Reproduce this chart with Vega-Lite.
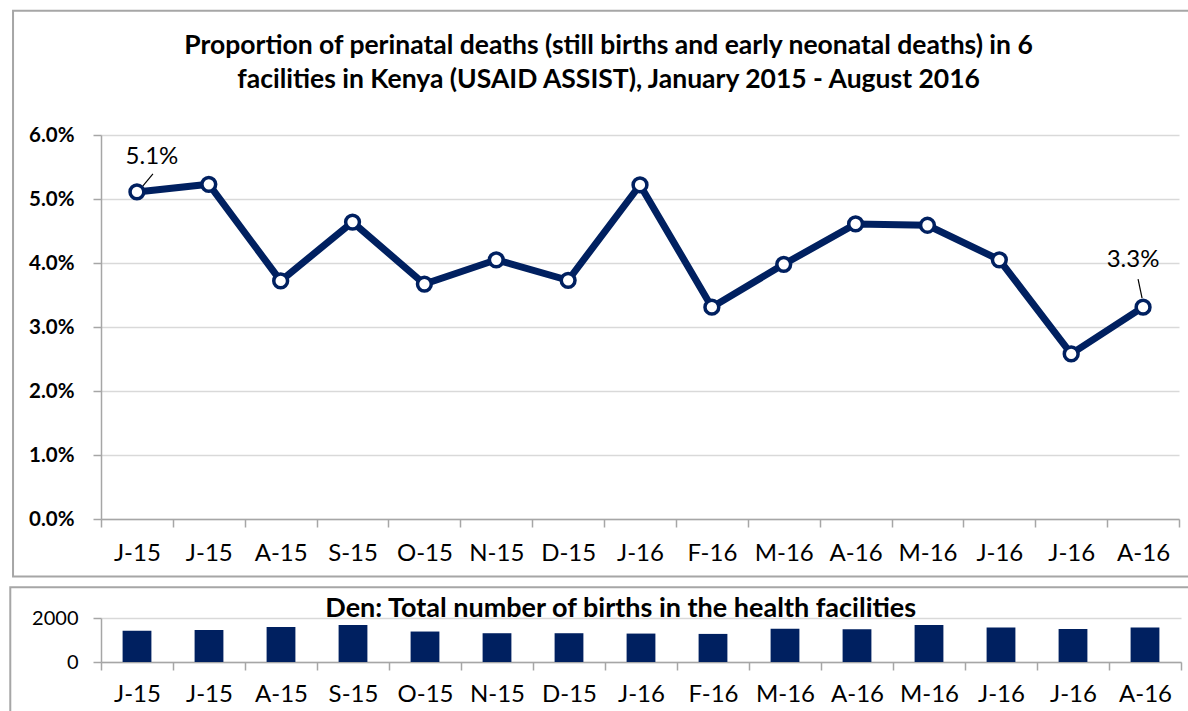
{
  "$schema": "https://vega.github.io/schema/vega-lite/v6.json",
  "background": "white",
  "padding": {"left": 9, "top": 9, "right": 0, "bottom": 0},
  "spacing": 8,
  "config": {"font": "Lato", "view": {"stroke": null}},
  "datasets": {
    "rate": [
      {"d": "2015-06", "p": 0.0511},
      {"d": "2015-07", "p": 0.0523},
      {"d": "2015-08", "p": 0.0372},
      {"d": "2015-09", "p": 0.0464},
      {"d": "2015-10", "p": 0.0367},
      {"d": "2015-11", "p": 0.0405},
      {"d": "2015-12", "p": 0.0373},
      {"d": "2016-01", "p": 0.0522},
      {"d": "2016-02", "p": 0.0331},
      {"d": "2016-03", "p": 0.0398},
      {"d": "2016-04", "p": 0.0461},
      {"d": "2016-05", "p": 0.0459},
      {"d": "2016-06", "p": 0.0405},
      {"d": "2016-07", "p": 0.0258},
      {"d": "2016-08", "p": 0.0331}
    ],
    "births": [
      {"d": "2015-06", "n": 1424},
      {"d": "2015-07", "n": 1455},
      {"d": "2015-08", "n": 1591},
      {"d": "2015-09", "n": 1682},
      {"d": "2015-10", "n": 1385},
      {"d": "2015-11", "n": 1308},
      {"d": "2015-12", "n": 1308},
      {"d": "2016-01", "n": 1292},
      {"d": "2016-02", "n": 1277},
      {"d": "2016-03", "n": 1508},
      {"d": "2016-04", "n": 1492},
      {"d": "2016-05", "n": 1684},
      {"d": "2016-06", "n": 1564},
      {"d": "2016-07", "n": 1504},
      {"d": "2016-08", "n": 1564}
    ]
  },
  "vconcat": [
    {
      "width": 1078,
      "height": 384,
      "title": {
        "text": ["Proportion of perinatal deaths (still births and early neonatal deaths)  in 6", "facilities in Kenya (USAID ASSIST), January 2015 - August 2016"],
        "font": "Lato", "fontSize": 26.5, "fontWeight": "bold", "color": "black",
        "frame": "bounds", "anchor": "middle", "lineHeight": 34, "offset": -84
      },
      "resolve": {"scale": {"x": "independent", "y": "independent"}, "axis": {"x": "independent", "y": "independent"}},
      "layer": [
        {
          "data": {"values": [{"box": "frame"}]},
          "mark": {"type": "rect", "filled": false, "stroke": "#a6a6a6", "strokeWidth": 2},
          "encoding": {
            "x": {"datum": -1.224, "type": "quantitative", "scale": {"domain": [0, 15], "nice": false, "zero": false}, "axis": null},
            "x2": {"datum": 15.35},
            "y": {"datum": 0.0794, "type": "quantitative", "scale": {"domain": [0, 0.06], "nice": false, "zero": false}, "axis": null},
            "y2": {"datum": -0.0090}
          }
        },
        {
          "data": {"name": "rate"},
          "encoding": {
            "x": {
              "field": "d", "type": "ordinal", "bandPosition": 0.5,
              "scale": {"type": "band", "paddingInner": 0, "paddingOuter": 0},
              "axis": {
                "title": null, "labelAngle": 0, "tickBand": "extent",
                "labelExpr": "isString(datum.value) ? ['J','F','M','A','M','J','J','A','S','O','N','D'][toNumber(substring(datum.value,5,7))-1] + '-' + substring(datum.value,2,4) : ''",
                "labelFont": "Lato", "labelFontSize": 24, "labelColor": "black", "labelPadding": 14,
                "tickSize": 8, "tickColor": "#a6a6a6", "tickWidth": 1.5,
                "domainColor": "#a6a6a6", "domainWidth": 1.5, "grid": false
              }
            },
            "y": {
              "field": "p", "type": "quantitative",
              "scale": {"domain": [0, 0.06], "nice": false},
              "axis": {
                "title": null, "values": [0, 0.01, 0.02, 0.03, 0.04, 0.05, 0.06], "format": ".1%",
                "labelFont": "Lato", "labelFontSize": 20.5, "labelFontWeight": "bold", "labelColor": "black", "labelPadding": 19,
                "tickSize": 8, "tickColor": "#a6a6a6", "tickWidth": 1.5,
                "domainColor": "#a6a6a6", "domainWidth": 1.5,
                "grid": true, "gridColor": "#d9d9d9", "gridWidth": 1.5
              }
            }
          },
          "layer": [
            {"mark": {"type": "line", "stroke": "#002060", "strokeWidth": 7}},
            {"mark": {"type": "point", "shape": "circle", "filled": true, "fill": "white", "stroke": "#002060", "strokeWidth": 3.5, "size": 190, "opacity": 1}},
            {
              "transform": [{"filter": "datum.d == '2015-06'"}],
              "mark": {"type": "rule", "stroke": "black", "strokeWidth": 1.2, "xOffset": 6, "yOffset": -6, "x2Offset": 16, "y2Offset": -18},
              "encoding": {"x2": {"field": "d", "bandPosition": 0.5}, "y2": {"field": "p"}}
            },
            {
              "transform": [{"filter": "datum.d == '2016-08'"}],
              "mark": {"type": "rule", "stroke": "black", "strokeWidth": 1.2, "xOffset": -1, "yOffset": -9, "x2Offset": -5, "y2Offset": -28},
              "encoding": {"x2": {"field": "d", "bandPosition": 0.5}, "y2": {"field": "p"}}
            },
            {
              "transform": [{"filter": "datum.d == '2015-06'"}],
              "mark": {"type": "text", "font": "Lato", "fontSize": 24, "color": "black", "dx": 15, "dy": -35},
              "encoding": {"text": {"field": "p", "type": "quantitative", "format": ".1%"}}
            },
            {
              "transform": [{"filter": "datum.d == '2016-08'"}],
              "mark": {"type": "text", "font": "Lato", "fontSize": 24, "color": "black", "dx": -10, "dy": -47},
              "encoding": {"text": {"field": "p", "type": "quantitative", "format": ".1%"}}
            }
          ]
        }
      ]
    },
    {
      "width": 1080,
      "height": 44,
      "title": {
        "text": "Den: Total number of births in the health facilities",
        "font": "Lato", "fontSize": 27, "fontWeight": "bold", "color": "black",
        "frame": "bounds", "anchor": "middle", "offset": -37, "dx": 15
      },
      "resolve": {"scale": {"x": "independent", "y": "independent"}, "axis": {"x": "independent", "y": "independent"}},
      "layer": [
        {
          "data": {"values": [{"box": "frame"}]},
          "mark": {"type": "rect", "filled": false, "stroke": "#a6a6a6", "strokeWidth": 2},
          "encoding": {
            "x": {"datum": -1.26, "type": "quantitative", "scale": {"domain": [0, 15], "nice": false, "zero": false}, "axis": null},
            "x2": {"datum": 15.28},
            "y": {"datum": 3400, "type": "quantitative", "scale": {"domain": [0, 2000], "nice": false, "zero": false}, "axis": null},
            "y2": {"datum": -2600}
          }
        },
        {
          "data": {"name": "births"},
          "mark": {"type": "bar", "color": "#002060", "width": {"band": 0.4}},
          "encoding": {
            "x": {
              "field": "d", "type": "ordinal",
              "scale": {"type": "band", "paddingInner": 0, "paddingOuter": 0},
              "axis": {
                "title": null, "labelAngle": 0, "tickBand": "extent",
                "labelExpr": "isString(datum.value) ? ['J','F','M','A','M','J','J','A','S','O','N','D'][toNumber(substring(datum.value,5,7))-1] + '-' + substring(datum.value,2,4) : ''",
                "labelFont": "Lato", "labelFontSize": 24, "labelColor": "black", "labelPadding": 12,
                "tickSize": 8, "tickColor": "#a6a6a6", "tickWidth": 1.5,
                "domainColor": "#a6a6a6", "domainWidth": 1.5, "grid": false
              }
            },
            "y": {
              "field": "n", "type": "quantitative",
              "scale": {"domain": [0, 2000], "nice": false},
              "axis": {
                "title": null, "values": [0, 2000], "format": "d",
                "labelFont": "Lato", "labelFontSize": 20, "labelColor": "black", "labelPadding": 15,
                "tickSize": 8, "tickColor": "#a6a6a6", "tickWidth": 1.5,
                "domainColor": "#a6a6a6", "domainWidth": 1.5,
                "grid": true, "gridColor": "#d9d9d9", "gridWidth": 1.5
              }
            }
          }
        }
      ]
    }
  ]
}
